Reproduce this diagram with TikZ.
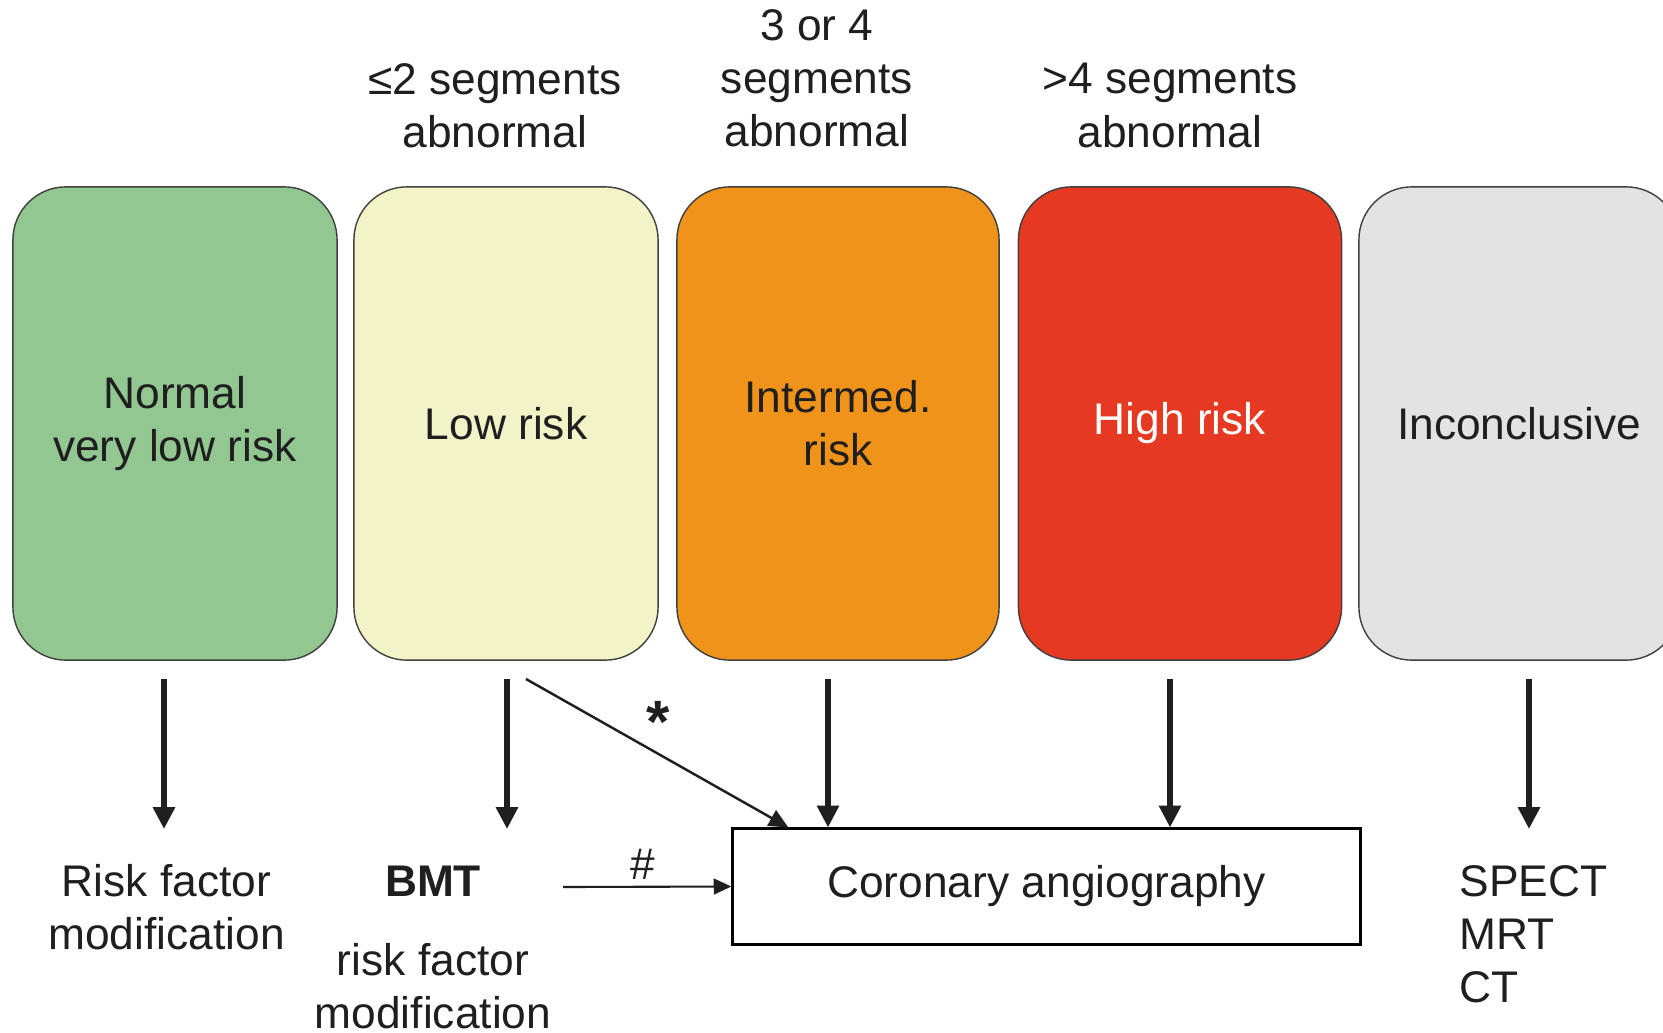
\documentclass[tikz,border=0pt]{standalone}
\usepackage{fontspec}
\setmainfont{Liberation Sans}
\usetikzlibrary{arrows.meta,positioning}

\definecolor{riskgreen}{RGB}{146,199,146}
\definecolor{riskyellow}{RGB}{242,243,199}
\definecolor{riskorange}{RGB}{240,147,26}
\definecolor{riskred}{RGB}{230,57,33}
\definecolor{riskgray}{RGB}{227,227,227}

\begin{document}
\begin{tikzpicture}[x=0.01cm,y=-0.01cm,
    every node/.style={font=\fontsize{12.6}{15.1}\selectfont, text=black!88},
    label/.style={align=center, inner sep=0pt},
    riskbox/.style={draw=black!75, line width=0.4pt, rounded corners=0.53cm,
        minimum height=4.73cm, align=center, inner sep=0pt},
    bigarrow/.style={-{Triangle[length=6.2pt,width=6pt]}, line width=1.5pt, black!88},
    midarrow/.style={-{Triangle[length=5.5pt,width=5pt]}, line width=0.7pt, black!88},
    thinarrow/.style={-{Triangle[length=5pt,width=4.5pt]}, line width=0.6pt, black!88}]
    \useasboundingbox (0,0) rectangle (1663,1033);

    % Risk categories
    \node[riskbox, fill=riskgreen, minimum width=3.24cm] (normal) at (175,423.5) {Normal\\very low risk};
    \node[riskbox, fill=riskyellow, minimum width=3.04cm] (low) at (506,423.5) {Low risk};
    \node[riskbox, fill=riskorange, minimum width=3.22cm] (inter) at (838,423.5) {Intermed.\\risk};
    \node[riskbox, fill=riskred, minimum width=3.23cm, text=white] (high) at (1180,423.5) {High risk};
    \node[riskbox, fill=riskgray, minimum width=3.20cm] (incon) at (1519,423.5) {Inconclusive};

    % Segment counts
    \node[label] (seglow) at (495,105.5) {≤2 segments\\abnormal};
    \node[label] (seginter) at (817,78.5) {3 or 4\\segments\\abnormal};
    \node[label] (seghigh) at (1170,105.5) {>4 segments\\abnormal};

    % Consequences
    \node[draw, line width=0.85pt, minimum width=6.27cm, minimum height=1.15cm, inner sep=0pt] (cor) at (1046.5,886.5) {Coronary angiography};
    \node[label] (rfm) at (166.5,907.6) {Risk factor\\modification};
    \node[label, font=\fontsize{12.6}{15.1}\selectfont\bfseries] (bmt) at (433,881) {BMT};
    \node[label] (bmtrfm) at (433,986.5) {risk factor\\modification};
    \node[label, align=left, anchor=west] (imaging) at (1459,934) {SPECT\\MRT\\CT};

    % Arrows
    \coordinate (s1) at (164,679);
    \coordinate (e1) at (164,829);
    \coordinate (s2) at (507,679);
    \coordinate (e2) at (507,829);
    \coordinate (s2d) at (526,679);
    \coordinate (s3) at (828,679);
    \coordinate (s4) at (1170,679);
    \coordinate (s5) at (1529,679);
    \coordinate (e5) at (1529,829);
    \coordinate (h) at (563,887);

    \draw[bigarrow] (s1) -- (e1);
    \draw[bigarrow] (s2) -- (e2);
    \draw[bigarrow] (s3) -- (s3 |- cor.north);
    \draw[bigarrow] (s4) -- (s4 |- cor.north);
    \draw[bigarrow] (s5) -- (e5);
    \draw[midarrow] (s2d) -- ([xshift=0.57cm]cor.north west);
    \draw[thinarrow] (h) -- (cor.west);

    \node[label, font=\fontsize{17}{17}\selectfont\bfseries] (star) at (658,722) {*};
    \node[label] (hash) at (643,864) {\#};
\end{tikzpicture}
\end{document}
